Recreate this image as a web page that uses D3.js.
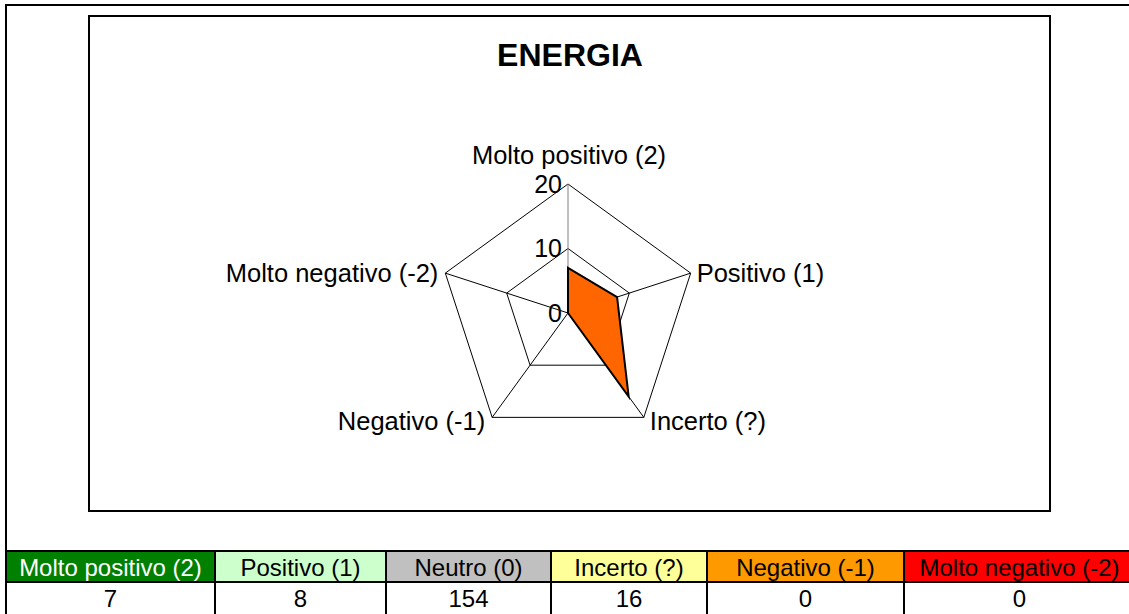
<!DOCTYPE html>
<html>
<head>
<meta charset="utf-8">
<script src="https://cdn.jsdelivr.net/npm/d3@7"></script>
<style>
  body { margin: 0; background: #fff; }
  svg { display: block; font-family: "Liberation Sans", Arial, sans-serif; }
</style>
</head>
<body>
<svg id="canvas" width="1129" height="614"></svg>
<script>
// radar data (Neutro is left out of the radar, only in the table)
let radarCategories = ["Molto positivo (2)", "Positivo (1)", "Incerto (?)", "Negativo (-1)", "Molto negativo (-2)"]
let radarValues = [7, 8, 16, 0, 0]
let radarTicks = [0, 10, 20]

// table under the chart
let tableHeaders = ["Molto positivo (2)", "Positivo (1)", "Neutro (0)", "Incerto (?)", "Negativo (-1)", "Molto negativo (-2)"]
let tableValues = [7, 8, 154, 16, 0, 0]
let tableFills = ["#008000", "#CCFFCC", "#C0C0C0", "#FFFF99", "#FF9900", "#FF0000"]
let tableTextColors = ["#FFFFFF", "#000", "#000", "#000", "#000", "#000"]

let canvas = d3.select("#canvas")

// outer frame (only top + left visible)
canvas.append("path")
    .attr("d", "M6,614 L6,5 L1129,5")
    .attr("fill", "none")
    .attr("stroke", "#000")
    .attr("stroke-width", 2)

// plot area box
canvas.append("rect")
    .attr("x", 89).attr("y", 16)
    .attr("width", 961).attr("height", 495)
    .attr("fill", "#fff")
    .attr("stroke", "#000")
    .attr("stroke-width", 2)

canvas.append("text")
    .attr("x", 570).attr("y", 66)
    .attr("text-anchor", "middle")
    .attr("font-size", 32)
    .attr("font-weight", "bold")
    .text("ENERGIA")

// ---- radar ----
let cx = 568, cy = 313, R = 129
let rScale = d3.scaleLinear().domain([0, 20]).range([0, R])
let angle = (i) => i * 2 * Math.PI / radarCategories.length

let radar = canvas.append("g").attr("transform", "translate(" + cx + "," + cy + ")")

let ringLine = d3.lineRadial()
    .angle((d, i) => angle(i))
    .radius((d) => rScale(d))
    .curve(d3.curveLinearClosed)

// rings
radar.selectAll(".ring")
    .data(radarTicks.filter((t) => t > 0))
    .enter()
    .append("path")
    .attr("class", "ring")
    .attr("d", (t) => ringLine(radarCategories.map(() => t)))
    .attr("fill", "none")
    .attr("stroke", "#000")
    .attr("stroke-width", 1)

// spokes
radar.selectAll(".spoke")
    .data(radarCategories)
    .enter()
    .append("line")
    .attr("class", "spoke")
    .attr("x1", 0).attr("y1", 0)
    .attr("x2", (d, i) => rScale(20) * Math.sin(angle(i)))
    .attr("y2", (d, i) => -rScale(20) * Math.cos(angle(i)))
    .attr("stroke", (d, i) => i === 0 ? "#808080" : "#000")
    .attr("stroke-width", 1)

// data polygon
radar.append("path")
    .datum(radarValues)
    .attr("d", ringLine)
    .attr("fill", "#FF6600")
    .attr("stroke", "#000")
    .attr("stroke-width", 2)
    .attr("stroke-linejoin", "miter")

// value axis labels
radar.selectAll(".tick")
    .data(radarTicks)
    .enter()
    .append("text")
    .attr("class", "tick")
    .attr("x", -6)
    .attr("y", (t) => -rScale(t))
    .attr("dy", "0.35em")
    .attr("text-anchor", "end")
    .attr("font-size", 25)
    .text((t) => t)

// category labels
radar.selectAll(".cat")
    .data(radarCategories)
    .enter()
    .append("text")
    .attr("class", "cat")
    .attr("font-size", 25.5)
    .attr("x", (d, i) => {
        let s = Math.sin(angle(i))
        let vx = rScale(20) * s
        if (Math.abs(s) < 0.01) return vx + 1
        return s > 0 ? vx + 6 : vx - 7
    })
    .attr("y", (d, i) => {
        let c = Math.cos(angle(i))
        let vy = -rScale(20) * c
        if (Math.abs(Math.sin(angle(i))) < 0.01) return vy - 20
        return c < 0 ? vy + 4 : vy
    })
    .attr("dy", (d, i) => Math.abs(Math.sin(angle(i))) < 0.01 ? 0 : "0.35em")
    .attr("text-anchor", (d, i) => {
        let s = Math.sin(angle(i))
        if (Math.abs(s) < 0.01) return "middle"
        return s > 0 ? "start" : "end"
    })
    .text((d) => d)

// ---- table ----
let colEdges = [6, 215, 386, 551, 707, 904, 1135]
let rowTop = 551, rowH = 31

let cells = canvas.append("g")

cells.selectAll(".head")
    .data(tableHeaders)
    .enter()
    .append("rect")
    .attr("class", "head")
    .attr("x", (d, i) => colEdges[i])
    .attr("y", rowTop)
    .attr("width", (d, i) => colEdges[i + 1] - colEdges[i])
    .attr("height", rowH)
    .attr("fill", (d, i) => tableFills[i])
    .attr("stroke", "#000")
    .attr("stroke-width", 2)

cells.selectAll(".val")
    .data(tableValues)
    .enter()
    .append("rect")
    .attr("class", "val")
    .attr("x", (d, i) => colEdges[i])
    .attr("y", rowTop + rowH)
    .attr("width", (d, i) => colEdges[i + 1] - colEdges[i])
    .attr("height", rowH + 4)
    .attr("fill", "#fff")
    .attr("stroke", "#000")
    .attr("stroke-width", 2)

cells.selectAll(".headText")
    .data(tableHeaders)
    .enter()
    .append("text")
    .attr("class", "headText")
    .attr("x", (d, i) => (colEdges[i] + colEdges[i + 1]) / 2)
    .attr("y", rowTop + 25)
    .attr("text-anchor", "middle")
    .attr("font-size", 24)
    .attr("fill", (d, i) => tableTextColors[i])
    .text((d) => d)

cells.selectAll(".valText")
    .data(tableValues)
    .enter()
    .append("text")
    .attr("class", "valText")
    .attr("x", (d, i) => (colEdges[i] + colEdges[i + 1]) / 2)
    .attr("y", rowTop + rowH + 25)
    .attr("text-anchor", "middle")
    .attr("font-size", 24)
    .text((d) => d)
</script>
</body>
</html>
